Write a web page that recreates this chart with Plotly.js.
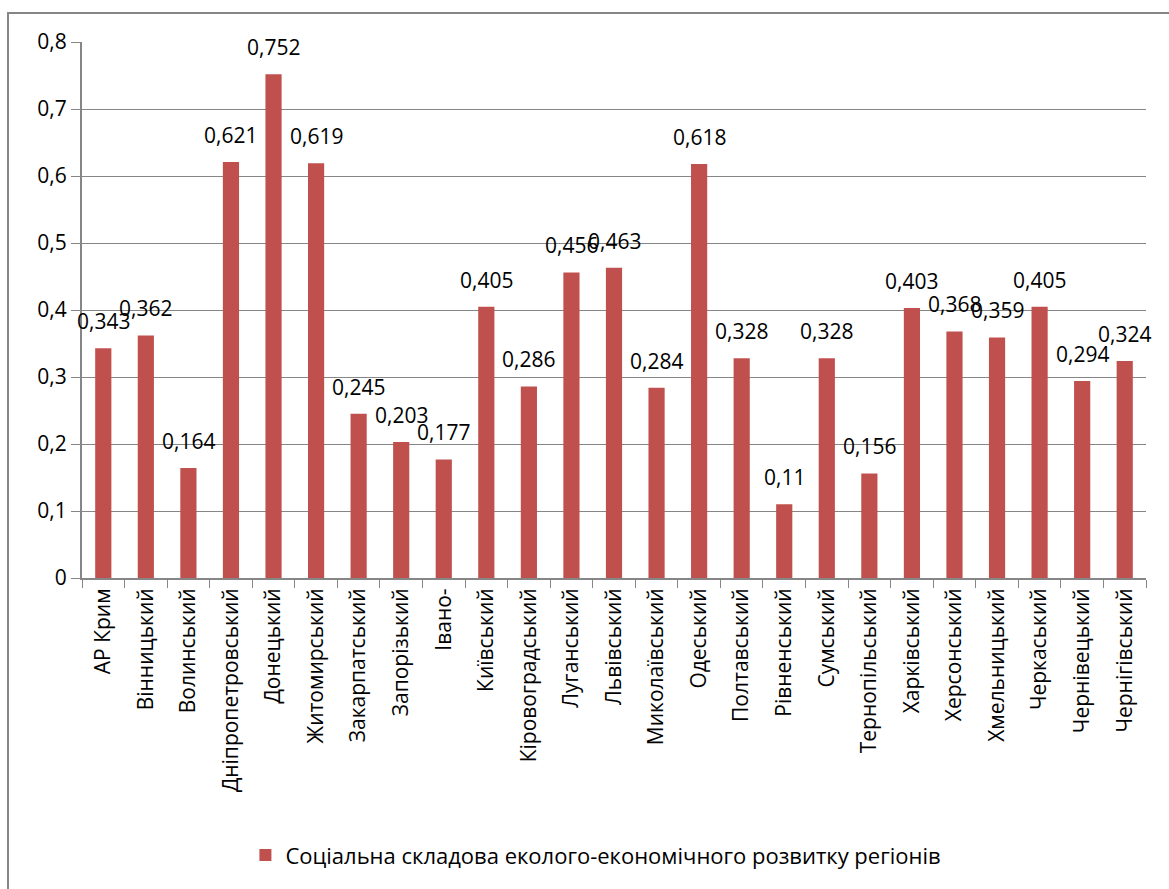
<!DOCTYPE html>
<html><head><meta charset="utf-8">
<script src="https://cdn.plot.ly/plotly-3.0.1.min.js"></script>
<style>
body{margin:0;padding:0;background:#fff;}
#chart{position:absolute;left:0;top:0;width:1169px;height:889px;}
#frame{position:absolute;left:7px;top:12px;width:1200px;height:900px;border:2px solid #868686;pointer-events:none;z-index:10;}
</style></head>
<body>
<div id="chart"></div>
<div id="frame"></div>
<script>
const regions = ["АР Крим","Вінницький","Волинський","Дніпропетровський","Донецький","Житомирський","Закарпатський","Запорізький","Івано-","Київський","Кіровоградський","Луганський","Львівський","Миколаївський","Одеський","Полтавський","Рівненський","Сумський","Тернопільський","Харківський","Херсонський","Хмельницький","Черкаський","Чернівецький","Чернігівський"];
const values = [0.343,0.362,0.164,0.621,0.752,0.619,0.245,0.203,0.177,0.405,0.286,0.456,0.463,0.284,0.618,0.328,0.11,0.328,0.156,0.403,0.368,0.359,0.405,0.294,0.324];
const seriesName = "Соціальна складова еколого-економічного розвитку регіонів";
const yTicks = [0,0.1,0.2,0.3,0.4,0.5,0.6,0.7,0.8];

const FONT = "Open Sans, Liberation Sans, sans-serif";
const fmt = v => String(v).replace('.',',');
const trace = {
  type:'bar', x:regions, y:values, name:seriesName,
  marker:{color:'#C0504D'},
  hoverinfo:'x+y'
};
const annotations = regions.map((r,i)=>({
  x:r, y:values[i], xref:'x', yref:'y', text:fmt(values[i]),
  showarrow:false, yanchor:'middle', yshift:27,
  font:{family:FONT,size:21,color:'#000'}
}));
const layout = {
  width:1169, height:889,
  margin:{l:82,r:23,t:42,b:311,autoexpand:false},
  paper_bgcolor:'#fff', plot_bgcolor:'#fff',
  bargap:0.62,
  showlegend:true,
  annotations:annotations,
  legend:{orientation:'h',x:0.483,xanchor:'center',y:-0.517,yanchor:'middle',
    itemwidth:30,
    font:{family:FONT,size:22,color:'#000'}},
  font:{family:FONT,size:21,color:'#000'},
  xaxis:{type:'category',range:[-0.5,regions.length-0.5],automargin:false,
    tickangle:-90,tickson:'boundaries',ticks:'outside',ticklen:8,tickcolor:'#868686',
    showline:true,linecolor:'#868686',linewidth:2,showgrid:false,
    tickfont:{family:FONT,size:21,color:'#000'}},
  yaxis:{range:[0,0.8],automargin:false,tickvals:yTicks,ticktext:yTicks.map(fmt),
    ticks:'outside',ticklen:9,tickcolor:'#868686',
    showline:true,linecolor:'#868686',linewidth:2,
    showgrid:true,gridcolor:'#868686',gridwidth:1,zeroline:false,
    tickfont:{family:FONT,size:21,color:'#000'}}
};
Plotly.newPlot('chart',[trace],layout,{displayModeBar:false,staticPlot:true});
</script>
</body></html>
